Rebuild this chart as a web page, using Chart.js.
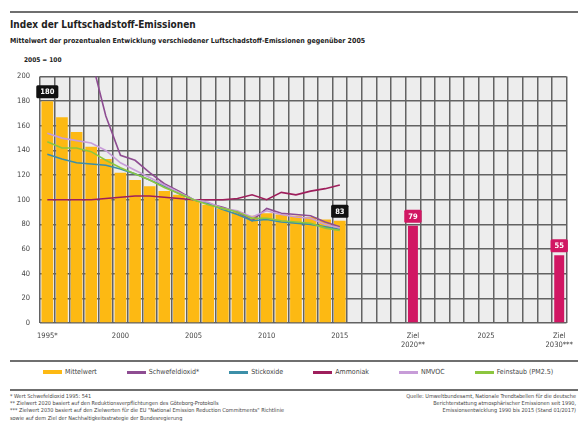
<!DOCTYPE html>
<html lang="de">
<head>
<meta charset="utf-8">
<script src="https://cdn.jsdelivr.net/npm/chart.js@4.4.1/dist/chart.umd.min.js"></script>
<style>
  body { margin: 0; background: #fff; font-family: "Liberation Sans Narrow", "DejaVu Sans Condensed", "Liberation Sans", sans-serif; color: #222; }
  #wrap { position: relative; width: 582px; height: 421px; overflow: hidden; }
  .rule { position: absolute; left: 10px; width: 568px; background: #6f6f6f; }
  #title { position: absolute; left: 10px; top: 19px; font-size: 10px; font-weight: bold; }
  #subtitle { position: absolute; left: 10px; top: 37px; font-size: 7px; font-weight: bold; }
  #unit { position: absolute; left: 24px; top: 56px; font-size: 6.5px; font-weight: bold; }
  #chart-box { position: absolute; left: 0; top: 62px; width: 582px; height: 296px; }
  #legend { position: absolute; left: 43px; top: 368px; display: flex; gap: 30px; font-size: 7px; color: #444; }
  #legend span.item { display: flex; align-items: center; white-space: nowrap; }
  #legend span.sw { display: inline-block; width: 19px; height: 3px; margin-right: 3px; }
  .notes { position: absolute; top: 393px; font-size: 5.5px; line-height: 7.2px; color: #444; }
</style>
</head>
<body>
<div id="wrap">
  <div class="rule" style="top:11px;height:2px;"></div>
  <div id="title">Index der Luftschadstoff-Emissionen</div>
  <div id="subtitle">Mittelwert der prozentualen Entwicklung verschiedener Luftschadstoff-Emissionen gegenüber 2005</div>
  <div id="unit">2005 = 100</div>
  <div id="chart-box"><canvas id="chart"></canvas></div>
  <div class="rule" style="top:360px;height:1.5px;"></div>
  <div id="legend"></div>
  <div class="rule" style="top:389px;height:2px;"></div>
  <div class="notes" style="left:10px;">
    * Wert Schwefeldioxid 1995: 541<br>
    ** Zielwert 2020 basiert auf den Reduktionsverpflichtungen des Göteborg-Protokolls<br>
    *** Zielwert 2030 basiert auf den Zielwerten für die EU "National Emission Reduction Commitments" Richtlinie<br>
    sowie auf dem Ziel der Nachhaltigkeitsstrategie der Bundesregierung
  </div>
  <div class="notes" style="right:6px;text-align:right;">
    Quelle: Umweltbundesamt, Nationale Trendtabellen für die deutsche<br>
    Berichterstattung atmosphärischer Emissionen seit 1990,<br>
    Emissionsentwicklung 1990 bis 2015 (Stand 01/2017)
  </div>
</div>
<script>
const categories = ['1995','1996','1997','1998','1999','2000','2001','2002','2003','2004',
                    '2005','2006','2007','2008','2009','2010','2011','2012','2013','2014',
                    '2015','2016','2017','2018','2019','2020','2021','2022','2023','2024',
                    '2025','2026','2027','2028','2029','2030'];
const tickLabels = {
    '1995': '1995*', '2000': '2000', '2005': '2005', '2010': '2010', '2015': '2015',
    '2020': ['Ziel', '2020**'], '2025': '2025', '2030': ['Ziel', '2030***']
};

// Index 2005 = 100, Werte 1995..2015
const mittelwert     = [180, 167, 155, 143, 133, 122, 116, 111, 107, 104, 100, 96, 93, 90, 87, 89, 88, 87, 86, 84, 83];
const schwefeldioxid = [541, 400, 300, 215, 168, 136, 132, 122, 113, 107, 100, 97, 94, 90, 83, 93, 89, 88, 87, 82, 78];
const stickoxide     = [137, 133, 130, 129, 128, 125, 121, 116, 111, 105, 100, 97, 92, 88, 83, 84, 82, 81, 80, 78, 76];
const ammoniak       = [100, 100, 100, 100, 101, 102, 103, 103, 102, 101, 100, 100, 100, 101, 104, 100, 106, 104, 107, 109, 112];
const nmvoc          = [154, 150, 148, 146, 140, 130, 124, 118, 112, 106, 100, 98, 93, 91, 86, 91, 88, 86, 85, 80, 77];
const feinstaub      = [147, 142, 142, 139, 132, 126, 121, 116, 110, 105, 100, 96, 93, 90, 85, 85, 83, 82, 81, 77, 75];

const zielJahre = ['2020', '2030'];
const zielWerte = [79, 55];

const yTicks = [0, 20, 40, 60, 80, 100, 120, 140, 160, 180, 200];

const zielData = categories.map(c => {
    const k = zielJahre.indexOf(c);
    return k >= 0 ? zielWerte[k] : null;
});

const FONT = '"Liberation Sans Narrow", "DejaVu Sans Condensed", "Liberation Sans", sans-serif';

// light grey plot background
const plotBg = {
    id: 'plotBg',
    beforeDraw(chart) {
        const a = chart.chartArea;
        const ctx = chart.ctx;
        ctx.save();
        ctx.fillStyle = '#ededed';
        ctx.fillRect(a.left, a.top, a.right - a.left, a.bottom - a.top);
        ctx.restore();
    }
};

// value boxes above selected bars
const valueBoxes = {
    id: 'valueBoxes',
    afterDatasetsDraw(chart) {
        const ctx = chart.ctx;
        const marks = [
            { ds: 0, idx: 0, color: '#111' },
            { ds: 0, idx: 20, color: '#111' },
            { ds: 1, idx: 25, color: '#d11763' },
            { ds: 1, idx: 35, color: '#d11763' }
        ];
        ctx.save();
        ctx.font = 'bold 7.5px ' + FONT;
        ctx.textAlign = 'center';
        ctx.textBaseline = 'middle';
        marks.forEach(m => {
            const el = chart.getDatasetMeta(m.ds).data[m.idx];
            const val = String(chart.data.datasets[m.ds].data[m.idx]);
            const w = Math.max(16, ctx.measureText(val).width + 8);
            const h = 13;
            const x = el.x - w / 2;
            const y = el.y - 3 - h;
            ctx.fillStyle = m.color;
            ctx.beginPath();
            ctx.roundRect(x, y, w, h, 1.5);
            ctx.fill();
            ctx.fillStyle = '#fff';
            ctx.fillText(val, el.x, y + h / 2 + 0.5);
        });
        ctx.restore();
    }
};

// HTML legend built from the chart's legend items
const htmlLegend = {
    id: 'htmlLegend',
    afterUpdate(chart) {
        const box = document.getElementById('legend');
        box.innerHTML = '';
        const items = Chart.defaults.plugins.legend.labels.generateLabels(chart)
            .filter(it => it.text !== 'Ziel')
            .sort((a, b) => a.datasetIndex - b.datasetIndex);
        items.forEach(it => {
            const ds = chart.data.datasets[it.datasetIndex];
            const item = document.createElement('span');
            item.className = 'item';
            const sw = document.createElement('span');
            sw.className = 'sw';
            sw.style.background = ds.type === 'line' ? ds.borderColor : ds.backgroundColor;
            if (ds.type === 'bar') sw.style.height = '4px';
            item.appendChild(sw);
            item.appendChild(document.createTextNode(it.text));
            box.appendChild(item);
        });
    }
};

function lineDs(label, data, color, order) {
    return {
        type: 'line',
        label: label,
        data: data,
        borderColor: color,
        backgroundColor: color,
        borderWidth: 1.6,
        pointRadius: 0,
        tension: 0,
        order: order
    };
}

new Chart(document.getElementById('chart'), {
    data: {
        labels: categories,
        datasets: [
            {
                type: 'bar',
                label: 'Mittelwert',
                data: mittelwert,
                backgroundColor: '#fdb913',
                barPercentage: 0.8,
                categoryPercentage: 1,
                grouped: false,
                order: 10
            },
            {
                type: 'bar',
                label: 'Ziel',
                data: zielData,
                backgroundColor: '#d11763',
                barPercentage: 0.68,
                categoryPercentage: 1,
                grouped: false,
                order: 11
            },
            lineDs('Schwefeldioxid*', schwefeldioxid, '#8e4d92', 5),
            lineDs('Stickoxide', stickoxide, '#3c8fa8', 4),
            lineDs('Ammoniak', ammoniak, '#9e1f5c', 3),
            lineDs('NMVOC', nmvoc, '#c79cd8', 2),
            lineDs('Feinstaub (PM2.5)', feinstaub, '#8cc63f', 1)
        ]
    },
    options: {
        responsive: true,
        maintainAspectRatio: false,
        animation: false,
        layout: { padding: { left: 13, right: 11, top: 8, bottom: 0 } },
        plugins: {
            legend: { display: false },
            tooltip: { enabled: false }
        },
        scales: {
            x: {
                offset: true,
                grid: { offset: true, color: '#626262', lineWidth: 1.5, drawTicks: false },
                border: { display: false },
                ticks: {
                    autoSkip: false,
                    maxRotation: 0,
                    padding: 9,
                    color: '#444',
                    font: { family: FONT, size: 7.5 },
                    callback: function (value) {
                        const c = categories[value];
                        return tickLabels[c] !== undefined ? tickLabels[c] : '';
                    }
                },
                afterFit: s => { s.height = 35; }
            },
            y: {
                min: 0,
                max: 200,
                afterBuildTicks: s => { s.ticks = yTicks.map(v => ({ value: v })); },
                grid: { color: '#626262', lineWidth: 1.5, drawTicks: false },
                border: { display: false },
                ticks: {
                    padding: 10,
                    color: '#444',
                    font: { family: FONT, size: 7.5 }
                },
                afterFit: s => { s.width = 27; }
            }
        }
    },
    plugins: [plotBg, valueBoxes, htmlLegend]
});
</script>
</body>
</html>
